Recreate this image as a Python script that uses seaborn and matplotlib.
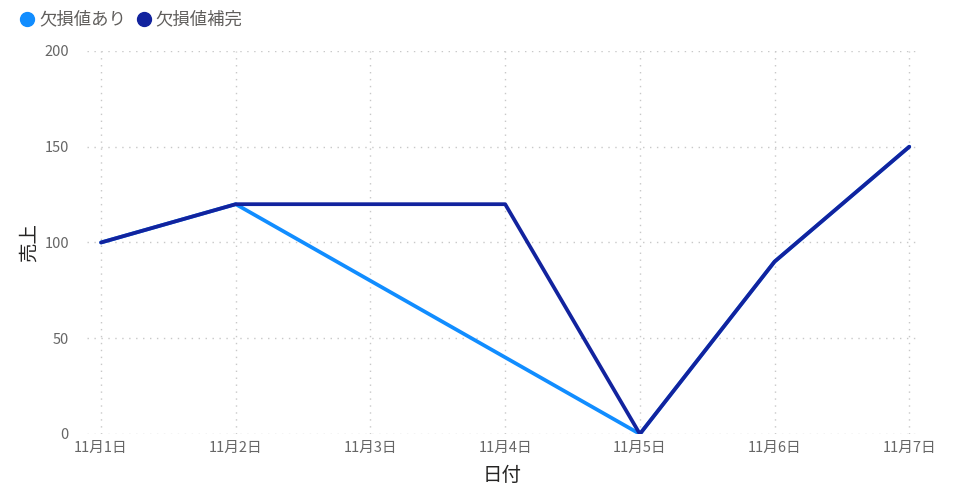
import pandas as pd
import numpy as np
import seaborn as sns
import matplotlib.pyplot as plt
from matplotlib.lines import Line2D


# data
dates = ['2023-11-01', '2023-11-02', '2023-11-03', '2023-11-04', '2023-11-05', '2023-11-06', '2023-11-07']
date_labels = ['11月1日', '11月2日', '11月3日', '11月4日', '11月5日', '11月6日', '11月7日']
sales_missing = [100, 120, np.nan, np.nan, 0, 90, 150]
sales_filled = [100, 120, 120, 120, 0, 90, 150]
series_names = ['欠損値あり', '欠損値補完']
colors = ['#118DFF', '#12239E']

df = pd.DataFrame({
    '日付': pd.to_datetime(dates * 2),
    '売上': sales_missing + sales_filled,
    '系列': [series_names[0]] * len(dates) + [series_names[1]] * len(dates),
})


# plotting
sns.set_style("white")
plt.rcParams['font.family'] = ['Noto Sans CJK JP', 'DejaVu Sans']

fig = plt.figure(figsize=(9.67, 4.97), dpi=100)
ax = fig.add_axes([0.09, 0.1268, 0.859, 0.7706])

sns.lineplot(data=df, x='日付', y='売上', hue='系列', palette=colors,
             linewidth=2.7, legend=False, ax=ax)

x = pd.to_datetime(dates)
ax.set_xticks(x)
ax.set_xticklabels(date_labels)
ax.set_xlim(x[0] - pd.Timedelta(hours=2.5), x[-1] + pd.Timedelta(hours=1.5))
ax.set_ylim(0, 200)
ax.set_yticks([0, 50, 100, 150, 200])

ax.grid(True, linestyle=(0, (1, 4)), color='#C8C8C8', linewidth=1)
for s in ax.spines.values():
    s.set_visible(False)
ax.tick_params(axis='y', length=0, pad=13, labelsize=10.5, labelcolor='#666666')
ax.tick_params(axis='x', length=0, pad=5, labelsize=10.5, labelcolor='#666666')

ax.set_xlabel('日付', fontsize=14, color='#252423', labelpad=7)
ax.set_ylabel('売上', fontsize=14, color='#252423', labelpad=3)

handles = [Line2D([], [], marker='o', linestyle='', color=c, markersize=10) for c in colors]
fig.legend(handles, series_names, loc='upper left', bbox_to_anchor=(0.003, 1.01),
           ncol=2, frameon=False, fontsize=12.5, labelcolor='#605E5C',
           handletextpad=0.2, columnspacing=0.5, handlelength=1.0)

plt.savefig('out.png', dpi=100)
